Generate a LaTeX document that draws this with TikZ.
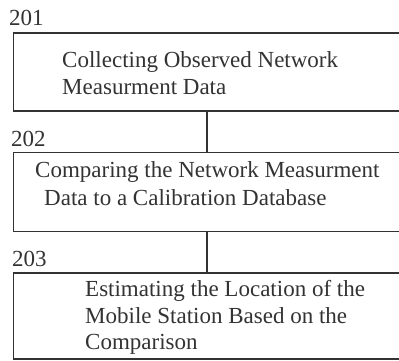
\documentclass[tikz,border=0pt]{standalone}
\usepackage{fontspec}
\setmainfont{Liberation Serif}
\definecolor{ink}{HTML}{333333}
\begin{document}
\begin{tikzpicture}[x=1pt,y=-1pt,
  stepbox/.style={draw=ink, line width=1.2pt, rectangle, inner sep=0pt, minimum width=387pt},
  txt/.style={anchor=base west, inner sep=0pt, text=ink, font=\fontsize{23}{27}\selectfont},
  conn/.style={draw=ink, line width=1.2pt}]
\useasboundingbox (0,0) rectangle (399,361);
\clip (0,0) rectangle (399,361);
\fill[white] (0,0) rectangle (399,361);
\node[stepbox, minimum height=78pt] (b1) at (207,72) {};
\node[stepbox, minimum height=79pt] (b2) at (207,192) {};
\node[stepbox, minimum height=86pt] (b3) at (207,316) {};
\node[txt] (l1) at (9,26) {201};
\node[txt] (l2) at (11,146) {202};
\node[txt] (l3) at (12,266) {203};
\node[txt] (t1a) at (62,67) {Collecting Observed Network};
\node[txt] (t1b) at (62,94) {Measurment Data};
\node[txt] (t2a) at (35,177) {Comparing the Network Measurment};
\node[txt] (t2b) at (44,205) {Data to a Calibration Database};
\node[txt] (t3a) at (85,296) {Estimating the Location of the};
\node[txt] (t3b) at (85,323) {Mobile Station Based on the};
\node[txt] (t3c) at (85,349) {Comparison};
\draw[conn] (b1.south) -- (b2.north);
\draw[conn] (b2.south) -- (b3.north);
\end{tikzpicture}
\end{document}
